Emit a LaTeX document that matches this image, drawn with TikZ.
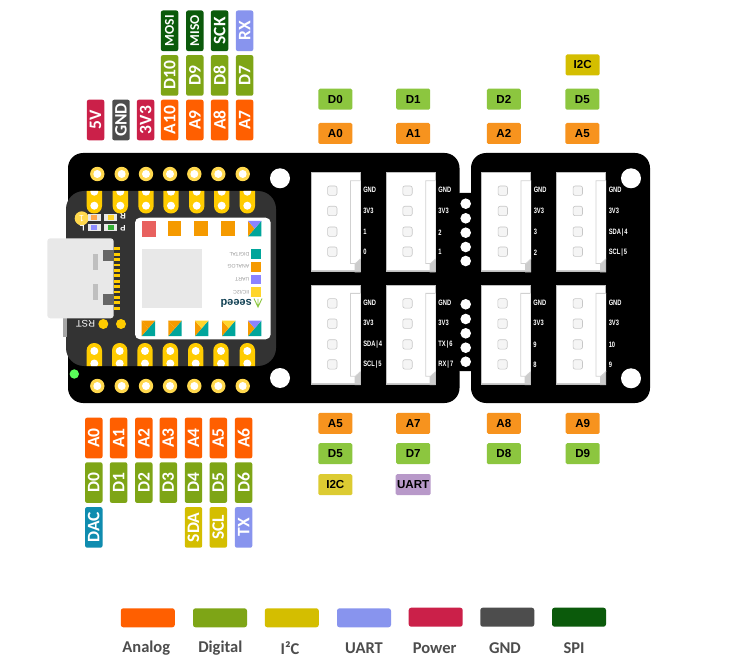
\documentclass[tikz,border=0pt]{standalone}
\usepackage{fontspec}
\setmainfont{Carlito}
\newfontfamily\arialfont{Liberation Sans}
\definecolor{cAnalog}{HTML}{FF5F00}
\definecolor{cDigital}{HTML}{7EA516}
\definecolor{cItwoC}{HTML}{D4BE00}
\definecolor{cUart}{HTML}{8894EE}
\definecolor{cPower}{HTML}{CB2049}
\definecolor{cGnd}{HTML}{4D4D4D}
\definecolor{cSpi}{HTML}{0B5A0B}
\definecolor{cDac}{HTML}{0F8CAF}
\definecolor{gOrange}{HTML}{F7931E}
\definecolor{gGreen}{HTML}{8CC63F}
\definecolor{gYellow}{HTML}{DCCB32}
\definecolor{gPurple}{HTML}{B899C9}
\definecolor{ringY}{HTML}{FFD84D}
\definecolor{padY}{HTML}{FFCC00}
\definecolor{modDark}{HTML}{333333}
\definecolor{mTeal}{HTML}{00A59B}
\definecolor{mOrange}{HTML}{F59A00}
\definecolor{mPurple}{HTML}{8A83FF}
\definecolor{mYellow}{HTML}{FFD52B}
\definecolor{mRed}{HTML}{E8615F}
\definecolor{softGray}{HTML}{E8E8E8}
\definecolor{seeedText}{HTML}{0F3F52}
\tikzset{
  x=1pt,y=-1pt,
  vtag/.style={rotate=90,minimum width=40.6pt,minimum height=17.4pt,inner sep=0pt,rounded corners=2pt,text=white,font=\bfseries\fontsize{17.5}{17.5}\selectfont},
  vtagsmall/.style={vtag,font=\bfseries\fontsize{13.5}{14}\selectfont},
  htag/.style={minimum width=34pt,minimum height=21pt,inner sep=0pt,rounded corners=1.5pt,text=black,font=\arialfont\bfseries\fontsize{11.6}{12}\selectfont},
  legbox/.style={minimum width=54pt,minimum height=19pt,inner sep=0pt,rounded corners=2.5pt},
  legtext/.style={text=cGnd,inner sep=0pt,font=\bfseries\fontsize{16.5}{17}\selectfont},
  grovetext/.style={anchor=west,inner sep=0pt,text=white,xscale=.74,font=\arialfont\bfseries\fontsize{7.8}{8}\selectfont},
  silk/.style={rotate=180,inner sep=0pt,text=white,font=\arialfont\bfseries\fontsize{8}{8}\selectfont},
  modtext/.style={rotate=180,anchor=west,inner sep=0pt,text=black!40,font=\arialfont\fontsize{5.2}{5.2}\selectfont},
}
\newcommand{\grove}[5]{%
 \begin{scope}[shift={(#2,#3)}]
  \fill[white] (0,0) rectangle (50,100);
  \fill[black!20] (0,97.5) rectangle (50,100);
  \fill[black!20] (44,91.5) -- (50,86) -- (50,100) -- (44,100) -- cycle;
  \draw[black!25,line width=1pt] (.5,.5) rectangle (49.5,99.5);
  \draw[black!18,line width=.8pt,fill=white] (50,8.4) -- (40,8.4) -- (40,91.2) -- (45,91.2) -- (50,86.5);
  \foreach \yy in {18.4,38.7,59.4,79.4}
    \draw[black!22,fill=black!4,line width=.6pt,rounded corners=2pt] (17.1,\yy-4.7) rectangle (26.5,\yy+4.7);
  \node[grovetext] (#1a) at (52.6,17.5) {GND};
  \node[grovetext] (#1b) at (52.6,38.2) {3V3};
  \node[grovetext] (#1c) at (52.6,60) {#4};
  \node[grovetext] (#1d) at (52.6,80) {#5};
 \end{scope}}
\newcommand{\tripad}[3]{%
 \fill[mTeal] (#1,#2+15.3) -- (#1+13.3,#2+15.3) -- (#1+13.3,#2) -- cycle;
 \fill[mOrange] (#1,#2) -- (#1+6.65,#2+7.65) -- (#1,#2+15.3) -- cycle;
 \fill[#3] (#1,#2) -- (#1+13.3,#2) -- (#1+6.65,#2+7.65) -- cycle;}
\begin{document}
\begin{tikzpicture}
\useasboundingbox (0,0) rectangle (736,668);
\fill[white] (0,0) rectangle (736,668);
% boards
\fill[black,rounded corners=15pt] (68,153) rectangle (459.5,403);
\fill[black,rounded corners=15pt] (471,153) rectangle (650,403);
\fill[black,rounded corners=4pt] (456,193) rectangle (475,371);
\foreach \yy in {203.7,218.3,232.7,247,261,304.3,319,333.3,347.7,361.7}
  \fill[white] (465.7,\yy) circle (5.3);
\foreach \xx/\yy in {280/178.3,280/378,631/178.3,631/378.3}
  \fill[white] (\xx,\yy) circle (10);
% outer rings
\foreach \xx in {97.3,121.7,146,170,194.3,218.3,242.7}
 \foreach \yy in {174,386}{
  \fill[ringY] (\xx,\yy) circle (7.2);
  \fill[white] (\xx,\yy) circle (4);}
% module
\fill[modDark,rounded corners=18pt] (66,191) rectangle (276,366);
\begin{scope}
 \clip[rounded corners=18pt] (66,191) rectangle (276,366);
 \foreach \xx in {94.3,120.3,146,171,196.7,221.7,247.3}{
  \fill[padY,rounded corners=7.5pt] (\xx-7.7,175) rectangle (\xx+7.7,213.5);
  \fill[white] (\xx,191.7) circle (4);
  \fill[white] (\xx,205.7) circle (4);}
 \foreach \xx in {94.3,119.7,145,170.3,195.7,221,247.3}{
  \fill[padY,rounded corners=7.5pt] (\xx-7.7,343) rectangle (\xx+7.7,382);
  \fill[white] (\xx,351) circle (4);
  \fill[white] (\xx,363.5) circle (4);}
\end{scope}
\fill[white,rounded corners=5pt] (135,217.7) rectangle (270.7,339.3);
% module pads
\fill[mRed] (142.3,221) rectangle (155.7,236.7);
\foreach \xx in {167.7,194.3,221.3}
  \fill[mOrange] (\xx,221) rectangle (\xx+13.3,236.5);
\tripad{248}{221}{mPurple}
\tripad{141.7}{320.7}{mOrange}
\tripad{168.3}{320.7}{mOrange}
\tripad{195}{320.7}{mYellow}
\tripad{222}{320.7}{mYellow}
\tripad{248}{320.7}{mPurple}
\fill[softGray] (142.3,249) rectangle (202,308);
\fill[mTeal] (251.3,249) rectangle (261.3,259);
\fill[mOrange] (251.3,261.7) rectangle (261.3,271.7);
\fill[mPurple] (251.3,274.7) rectangle (261.3,284.5);
\fill[mYellow] (251.3,287.3) rectangle (261.3,297.3);
\node[modtext] (tDig) at (249.5,254) {DIGITAL};
\node[modtext] (tAna) at (249.5,266.7) {ANALOG};
\node[modtext] (tUar) at (249.5,279.7) {UART};
\node[modtext] (tIic) at (249.5,292.3) {IIC/I2C};
\node[rotate=180,anchor=west,inner sep=0pt,text=seeedText,font=\arialfont\bfseries\fontsize{11}{11}\selectfont] (tSeeed) at (252,303.5) {seeed};
\draw[gGreen,line width=.9pt] (254,298.5) -- (258,307) -- (262,298.5) (258,307) -- (258,299);
% USB
\fill[black!35] (63.3,318) rectangle (66.5,337);
\fill[softGray,rounded corners=3pt] (47.3,238.3) rectangle (113.7,318.3);
\fill[black!60] (103.3,250) rectangle (113.7,260.7);
\fill[black!60] (103.3,294) rectangle (113.7,305);
\fill[black!25] (93,254) rectangle (98.3,270);
\fill[black!25] (93,284.3) rectangle (98.3,300);
\foreach \i in {0,...,11}
  \fill[padY] (114,247.4+\i*5.4) rectangle (120.3,250.2+\i*5.4);
% LEDs and silk
\fill[ringY] (81.7,218.3) circle (7);
\node[silk,text=white,font=\arialfont\fontsize{9}{9}\selectfont] (tOne) at (81.7,218.3) {1};
\foreach \xx/\yy/\c in {87.7/214/orange!70,104.3/214/mYellow,87.7/224/blue!45,104.3/224/green!60!black!80}{
  \fill[softGray] (\xx,\yy) rectangle (\xx+13,\yy+7);
  \fill[\c] (\xx+3.5,\yy+1.2) rectangle (\xx+9.5,\yy+5.8);}
\node[silk] (tL) at (82.3,228.5) {L};
\node[silk] (tR) at (123,216.7) {R};
\node[silk] (tP) at (123,228) {P};
\node[silk,font=\arialfont\fontsize{9.5}{9.5}\selectfont] (tRst) at (85.5,324) {RST};
\fill[padY] (103.3,324) circle (5);
\fill[padY] (121,324) circle (5);
\fill[green!65!white] (74.3,374) circle (4.7);
% connectors
\grove{ca}{310.5}{172.3}{1}{0}
\grove{cb}{385.7}{172.3}{2}{1}
\grove{cc}{481}{172.3}{3}{2}
\grove{cd}{556}{172.3}{SDA\,|\,4}{SCL\,|\,5}
\grove{ce}{310.5}{285}{SDA\,|\,4}{SCL\,|\,5}
\grove{cf}{385.7}{285}{TX\,|\,6}{RX\,|\,7}
\grove{cg}{480.7}{285}{9}{8}
\grove{ch}{556}{285}{10}{9}
% top vertical tags
\foreach \n/\xx/\yy/\c/\t in {
  a/169.6/120/cAnalog/A10, b/194.8/120/cAnalog/A9, c/219.6/120/cAnalog/A8, d/244.6/120/cAnalog/A7,
  e/169.6/75.4/cDigital/D10, f/194.8/75.4/cDigital/D9, g/219.6/75.4/cDigital/D8, h/244.6/75.4/cDigital/D7,
  k/219.6/30.8/cSpi/SCK, l/244.6/30.8/cUart/RX,
  m/95.6/120/cPower/5V, n/121/120/cGnd/GND, o/145.6/120/cPower/3V3}
  \node[vtag,fill=\c] (t\n) at (\xx,\yy) {\t};
\node[vtagsmall,fill=cSpi] (tMosi) at (169.6,30.8) {MOSI};
\node[vtagsmall,fill=cSpi] (tMiso) at (194.8,30.8) {MISO};
% bottom vertical tags
\foreach \n/\xx/\yy/\c/\t in {
  a/93.8/438/cAnalog/A0, b/118.6/438/cAnalog/A1, c/143.8/438/cAnalog/A2, d/168.3/438/cAnalog/A3,
  e/193.5/438/cAnalog/A4, f/218.3/438/cAnalog/A5, g/243.6/438/cAnalog/A6,
  h/93.8/482.6/cDigital/D0, i/118.6/482.6/cDigital/D1, j/143.8/482.6/cDigital/D2, k/168.3/482.6/cDigital/D3,
  l/193.5/482.6/cDigital/D4, m/218.3/482.6/cDigital/D5, n/243.6/482.6/cDigital/D6,
  o/93.8/527.4/cDac/DAC, p/193.5/527.4/cItwoC/SDA, q/218.3/527.4/cItwoC/SCL, r/243.6/527.4/cUart/TX}
  \node[vtag,fill=\c] (b\n) at (\xx,\yy) {\t};
% horizontal tags
\foreach \n/\xx/\yy/\c/\t in {
  a/335.3/133.5/gOrange/A0, b/413.2/133.5/gOrange/A1, c/503.9/133.5/gOrange/A2, d/582.3/133.5/gOrange/A5,
  e/335.3/99.2/gGreen/D0, f/413.2/99.2/gGreen/D1, g/503.9/99.2/gGreen/D2, h/582.3/99.2/gGreen/D5,
  i/582.7/65/cItwoC/I2C,
  j/335.3/423.3/gOrange/A5, k/413.2/423.3/gOrange/A7, l/503.9/423.3/gOrange/A8, m/582.7/423.3/gOrange/A9,
  n/335.3/453.7/gGreen/D5, o/413.2/453.7/gGreen/D7, p/503.9/453.7/gGreen/D8, q/582.7/453.7/gGreen/D9,
  r/335.3/484.7/gYellow/I2C}
  \node[htag,fill=\c] (h\n) at (\xx,\yy) {\t};
\node[htag,fill=gPurple,minimum width=35pt] (hUart) at (413.2,484.7) {UART};
% legend
\foreach \n/\xx/\yy/\c in {a/147.8/617.8/cAnalog,b/220/617.8/cDigital,c/291.8/617.8/cItwoC,d/364/617.8/cUart,e/435.7/617.2/cPower,f/507.3/617.2/cGnd,g/579/617.2/cSpi}
  \node[legbox,fill=\c] (l\n) at (\xx,\yy) {};
\foreach \n/\xx/\t in {a/146.3/Analog,b/220.3/Digital,c/290/I²C,d/364/UART,e/434.7/Power,f/505/GND,g/574/SPI}
  \node[legtext] (m\n) at (\xx,648) {\t};
\end{tikzpicture}
\end{document}
